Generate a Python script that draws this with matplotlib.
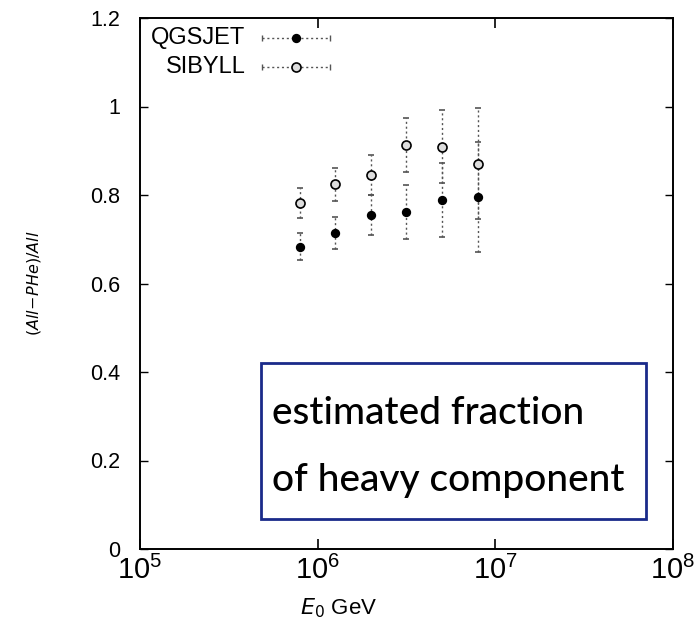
import matplotlib
matplotlib.use("Agg")
import matplotlib.pyplot as plt
import numpy as np

# Data
energy = [7.94e5, 1.26e6, 2.0e6, 3.16e6, 5.01e6, 7.94e6]
qgsjet = [0.683, 0.715, 0.755, 0.762, 0.789, 0.795]
qgsjet_err = [0.030, 0.036, 0.045, 0.061, 0.083, 0.124]
sibyll = [0.781, 0.824, 0.845, 0.913, 0.909, 0.871]
sibyll_err = [0.034, 0.038, 0.045, 0.061, 0.083, 0.126]
series_names = ["QGSJET", "SIBYLL"]
y_ticks = [0, 0.2, 0.4, 0.6, 0.8, 1.0, 1.2]
x_ticks = [1e5, 1e6, 1e7, 1e8]

plt.rcParams['font.family'] = ['Liberation Sans', 'DejaVu Sans']

fig = plt.figure(figsize=(6.96, 6.26), dpi=100)
ax = fig.add_axes([140/696, 1-549/626, (673-140)/696, (549-18)/626])

def draw(y, err, filled):
    eb = ax.errorbar(energy, y, yerr=err, fmt='o', color='#222222',
                     ecolor='#555555', elinewidth=1.0, capsize=2.5, capthick=1.0,
                     markersize=5.5 if filled else 6.5,
                     markerfacecolor='black' if filled else '#dddddd',
                     markeredgecolor='black', markeredgewidth=1.2, zorder=3)
    for lc in eb[2]:
        lc.set_linestyle((0, (1.5, 2.0)))
    return eb

draw(qgsjet, qgsjet_err, True)
draw(sibyll, sibyll_err, False)

ax.set_xscale('log')
ax.set_xlim(1e5, 1e8)
ax.set_ylim(0, 1.2)
ax.set_xticks(x_ticks)
ax.xaxis.set_minor_locator(matplotlib.ticker.NullLocator())
ax.set_yticks(y_ticks)
ax.yaxis.set_major_formatter(matplotlib.ticker.FormatStrFormatter('%g'))
ax.tick_params(axis='y', which='major', labelsize=15.5, direction='in', length=6,
               right=True, width=1.0, pad=14)
ax.tick_params(axis='x', which='major', labelsize=21, direction='in', length=7,
               top=True, width=1.2, pad=5)
for s in ax.spines.values():
    s.set_linewidth(1.4)

ax.set_xlabel(r'$E_0$ GeV', fontsize=16, labelpad=8, x=0.373)
ax.set_ylabel(r'$(All\!-\!PHe)/All$', fontsize=11.5, labelpad=34)

# Legend (gnuplot style, manual)
leg_rows = [(qgsjet, True), (sibyll, False)]
for i, (name, (vals, filled)) in enumerate(zip(series_names, leg_rows)):
    yy = 0.962 - i*0.055
    ax.text(0.198, yy, name, transform=ax.transAxes, ha='right', va='center', fontsize=17)
    ax.plot([0.229, 0.357], [yy, yy], transform=ax.transAxes, color='#555555',
            lw=1.0, ls=(0, (1.5, 2.0)))
    ax.plot([0.229, 0.357], [yy, yy], transform=ax.transAxes, color='#555555',
            lw=0, marker='|', markersize=5)
    ax.plot([0.293], [yy], transform=ax.transAxes, marker='o', color='black',
            markersize=5.5 if filled else 6.5,
            markerfacecolor='black' if filled else '#dddddd', markeredgewidth=1.2)

# Annotation box
fig.patches.append(matplotlib.patches.Rectangle((261/696, 1-519/626), (646-261)/696, (519-363)/626,
                   transform=fig.transFigure, fill=True, facecolor='white',
                   edgecolor='#1a2a8a', linewidth=2.0, zorder=5))
fig.text(272/696, 1-413/626, 'estimated fraction', fontsize=28, family='Lato', weight='medium',
         va='center', ha='left', zorder=6)
fig.text(272/696, 1-481/626, 'of heavy component', fontsize=28, family='Lato', weight='medium',
         va='center', ha='left', zorder=6)

fig.savefig('out.png', dpi=100)
